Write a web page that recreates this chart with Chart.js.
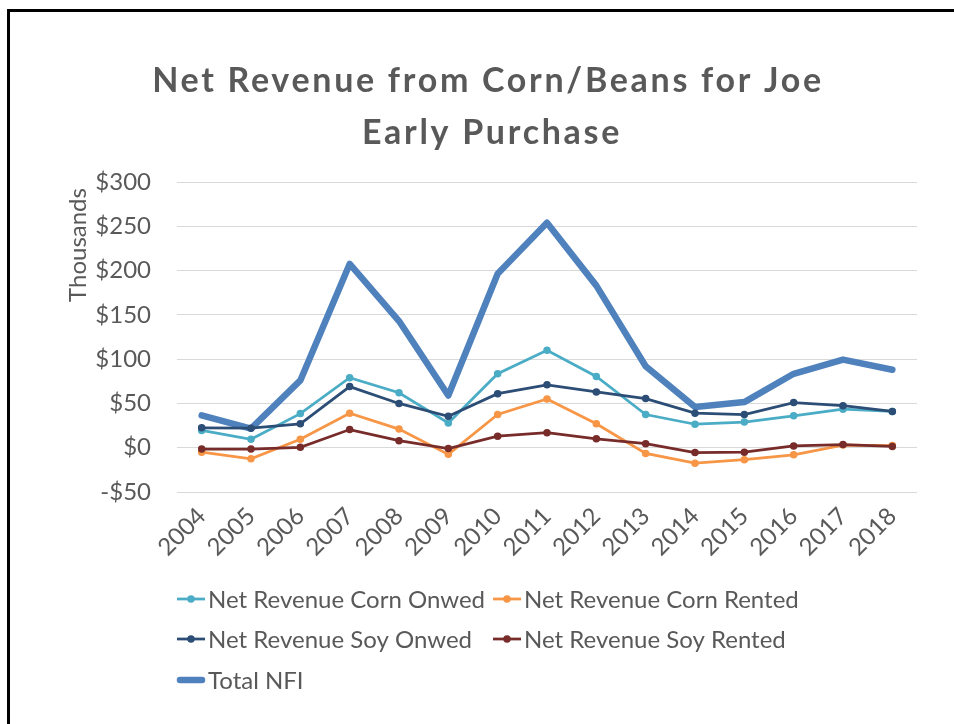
<!DOCTYPE html>
<html>
<head>
<meta charset="utf-8">
<script src="https://cdn.jsdelivr.net/npm/chart.js@4/dist/chart.umd.min.js"></script>
<style>
  html, body { margin: 0; padding: 0; background: #fff; }
  #wrap { position: relative; width: 954px; height: 724px; overflow: hidden; }
  #frame { position: absolute; left: 7px; top: 9px; width: 960px; height: 730px;
           border-top: 3px solid #000; border-left: 3px solid #000; }
  canvas { position: absolute; left: 0; top: 0; }
</style>
</head>
<body>
<div id="wrap">
  <div id="frame"></div>
  <canvas id="c" width="954" height="724"></canvas>
</div>
<script>
// Years on the x axis
const years = ['2004','2005','2006','2007','2008','2009','2010','2011','2012','2013','2014','2015','2016','2017','2018'];

// Net revenue series, in thousands of dollars
const cornOwned  = [19.5, 9.5, 38.5, 79, 62, 28, 83.5, 110, 80.5, 37.5, 26.5, 29, 36, 43.5, 41];
const cornRented = [-5, -12.5, 9.5, 39, 21, -7.5, 37.5, 55, 27, -6.5, -17.5, -13.5, -8, 3, 2.5];
const soyOwned   = [22.5, 22, 27, 69, 50, 35.5, 61, 71, 63, 55.5, 39, 37.5, 51, 47.5, 41];
const soyRented  = [-1.5, -1.5, 0.5, 20.5, 8, -1, 13, 17, 10, 4.5, -5.5, -5, 2, 3.5, 1.5];
const totalNFI   = [36.5, 21.5, 76, 207.5, 143, 59, 196.5, 254, 183, 92, 46, 51.5, 83.5, 99.5, 88];

// Value axis range and step
const yMin = -50, yMax = 300, yStep = 50;

// Chart title lines and value-axis caption
const titleLines = ['Net Revenue from Corn/Beans for Joe', 'Early Purchase'];
const yCaption = 'Thousands';

const FONT = "Lato, 'Open Sans', sans-serif";
const TEXT = '#595959';

function thinSeries(label, data, color, order) {
  return { label, data, borderColor: color, backgroundColor: color,
           borderWidth: 2.75, pointRadius: 3.75, pointHoverRadius: 3.75,
           pointBorderWidth: 0, tension: 0, order };
}

// Two-line bold title and the rotated axis caption
const headingPlugin = {
  id: 'heading',
  afterDraw(chart) {
    const ctx = chart.ctx;
    ctx.save();
    ctx.fillStyle = TEXT;
    ctx.textAlign = 'center';
    ctx.textBaseline = 'alphabetic';
    ctx.font = 'bold 34px ' + FONT;
    if ('letterSpacing' in ctx) ctx.letterSpacing = '2.7px';
    ctx.fillText(titleLines[0], 488, 92);
    ctx.fillText(titleLines[1], 492, 144);
    if ('letterSpacing' in ctx) ctx.letterSpacing = '0px';
    ctx.font = '24px ' + FONT;
    ctx.textBaseline = 'middle';
    ctx.translate(78, 245);
    ctx.rotate(-Math.PI / 2);
    ctx.fillText(yCaption, 0, 0);
    ctx.restore();
  }
};

// Legend drawn under the plot in three rows
const legendPlugin = {
  id: 'rowLegend',
  afterDraw(chart) {
    const ctx = chart.ctx;
    const ds = chart.data.datasets;
    const slots = [
      { i: 0, x: 177, y: 599 }, { i: 1, x: 493, y: 599 },
      { i: 2, x: 177, y: 639 }, { i: 3, x: 493, y: 639 },
      { i: 4, x: 177, y: 680 }
    ];
    ctx.save();
    ctx.font = '24px ' + FONT;
    ctx.textBaseline = 'middle';
    ctx.textAlign = 'left';
    slots.forEach(s => {
      const d = ds[s.i];
      const thick = d.pointRadius === 0;
      ctx.strokeStyle = d.borderColor;
      ctx.lineWidth = thick ? 6.5 : 2.75;
      ctx.lineCap = thick ? 'round' : 'butt';
      ctx.beginPath();
      ctx.moveTo(s.x + (thick ? 3 : 0), s.y);
      ctx.lineTo(s.x + 28 - (thick ? 3 : 0), s.y);
      ctx.stroke();
      if (!thick) {
        ctx.fillStyle = d.borderColor;
        ctx.beginPath();
        ctx.arc(s.x + 14, s.y, 3.75, 0, Math.PI * 2);
        ctx.fill();
      }
      ctx.fillStyle = TEXT;
      ctx.fillText(d.label, s.x + 31, s.y + 1);
    });
    ctx.restore();
  }
};

new Chart(document.getElementById('c'), {
  type: 'line',
  data: {
    labels: years,
    datasets: [
      thinSeries('Net Revenue Corn Onwed', cornOwned, '#4BACC6', 4),
      thinSeries('Net Revenue Corn Rented', cornRented, '#F79646', 3),
      thinSeries('Net Revenue Soy Onwed', soyOwned, '#2C4D75', 2),
      thinSeries('Net Revenue Soy Rented', soyRented, '#772C2A', 1),
      { label: 'Total NFI', data: totalNFI, borderColor: '#4F81BD', backgroundColor: '#4F81BD',
        borderWidth: 6.5, pointRadius: 0, pointHoverRadius: 0, tension: 0,
        borderJoinStyle: 'round', borderCapStyle: 'round', order: 5 }
    ]
  },
  options: {
    responsive: false,
    animation: false,
    devicePixelRatio: 1,
    layout: { padding: { left: 57, right: 37, top: 182, bottom: 150 } },
    plugins: {
      legend: { display: false },
      tooltip: { enabled: false },
      title: { display: false }
    },
    scales: {
      x: {
        offset: true,
        grid: { display: false },
        border: { display: false },
        ticks: { autoSkip: false, maxRotation: 45, minRotation: 45, color: TEXT,
                 font: { family: FONT, size: 24 }, padding: 2 },
        afterFit(scale) { scale.height = 82; }
      },
      y: {
        min: yMin, max: yMax,
        grid: { color: '#D9D9D9', lineWidth: 1, drawTicks: false },
        border: { display: false },
        ticks: { stepSize: yStep, color: TEXT, padding: 26,
                 font: { family: FONT, size: 24 },
                 callback: v => (v < 0 ? '-$' + Math.abs(v) : '$' + v) },
        afterFit(scale) { scale.width = 120; }
      }
    }
  },
  plugins: [headingPlugin, legendPlugin]
});
</script>
</body>
</html>
